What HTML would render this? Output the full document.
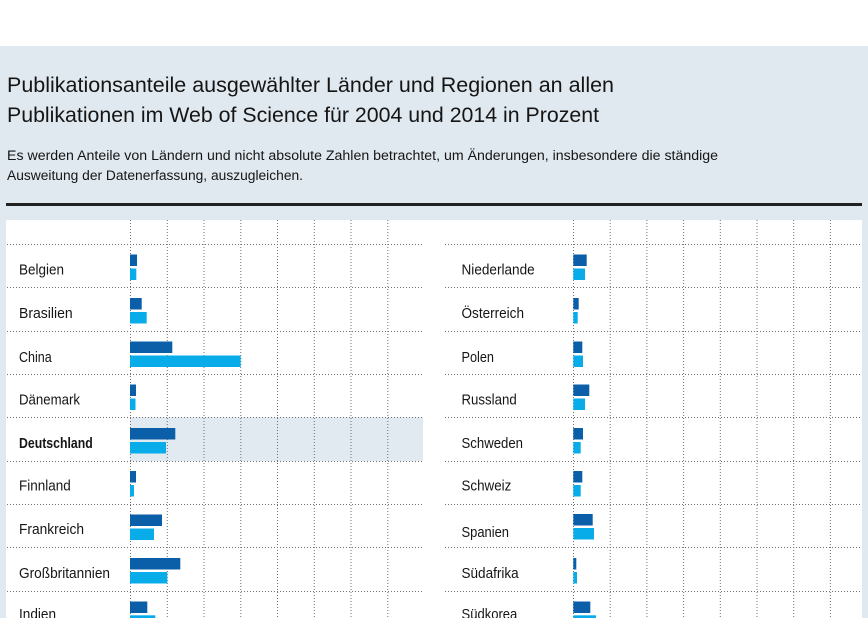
<!DOCTYPE html>
<html>
<head>
<meta charset="utf-8">
<style>
html,body{margin:0;padding:0;background:#fff;}
body{width:868px;height:618px;overflow:hidden;}
svg{display:block;}
text{font-family:"Liberation Sans",sans-serif;fill:#151515;}
</style>
</head>
<body>
<svg width="868" height="618" viewBox="0 0 868 618" xmlns="http://www.w3.org/2000/svg">
  <rect x="0" y="0" width="868" height="618" fill="#ffffff"/>
  <rect x="0" y="46" width="868" height="572" fill="#e1e9f0"/>

  <text x="7" y="92" font-size="21.5" textLength="607" lengthAdjust="spacingAndGlyphs">Publikationsanteile ausgewählter Länder und Regionen an allen</text>
  <text x="7" y="122" font-size="21.5" textLength="592" lengthAdjust="spacingAndGlyphs">Publikationen im Web of Science für 2004 und 2014 in Prozent</text>
  <text x="7" y="160" font-size="13.5" textLength="711" lengthAdjust="spacingAndGlyphs">Es werden Anteile von Ländern und nicht absolute Zahlen betrachtet, um Änderungen, insbesondere die ständige</text>
  <text x="7" y="180" font-size="13.5" textLength="296" lengthAdjust="spacingAndGlyphs">Ausweitung der Datenerfassung, auszugleichen.</text>

  <rect x="6" y="203" width="856" height="3" fill="#222"/>

  <rect x="6" y="220" width="856" height="398" fill="#ffffff"/>

  <!-- highlight Deutschland -->
  <rect x="130" y="417.3" width="293" height="43.7" fill="#e2eaf1"/>

  <!-- vertical grid lines -->
  <g stroke="#707070" stroke-width="1" stroke-dasharray="1 2" fill="none">
    <line x1="130.5" y1="220" x2="130.5" y2="618"/>
    <line x1="167.3" y1="220" x2="167.3" y2="618"/>
    <line x1="204" y1="220" x2="204" y2="618"/>
    <line x1="240.8" y1="220" x2="240.8" y2="618"/>
    <line x1="277.5" y1="220" x2="277.5" y2="618"/>
    <line x1="314.3" y1="220" x2="314.3" y2="618"/>
    <line x1="351" y1="220" x2="351" y2="618"/>
    <line x1="387.8" y1="220" x2="387.8" y2="618"/>

    <line x1="573.5" y1="220" x2="573.5" y2="618"/>
    <line x1="610.2" y1="220" x2="610.2" y2="618"/>
    <line x1="646.9" y1="220" x2="646.9" y2="618"/>
    <line x1="683.6" y1="220" x2="683.6" y2="618"/>
    <line x1="720.3" y1="220" x2="720.3" y2="618"/>
    <line x1="757" y1="220" x2="757" y2="618"/>
    <line x1="793.7" y1="220" x2="793.7" y2="618"/>
    <line x1="830.4" y1="220" x2="830.4" y2="618"/>
  </g>

  <!-- horizontal grid lines -->
  <g stroke="#707070" stroke-width="1" stroke-dasharray="1 2" fill="none">
    <line x1="7" y1="244.5" x2="423" y2="244.5"/>
    <line x1="7" y1="287.5" x2="423" y2="287.5"/>
    <line x1="7" y1="331.5" x2="423" y2="331.5"/>
    <line x1="7" y1="374.5" x2="423" y2="374.5"/>
    <line x1="7" y1="417.5" x2="423" y2="417.5"/>
    <line x1="7" y1="461.5" x2="423" y2="461.5"/>
    <line x1="7" y1="504.5" x2="423" y2="504.5"/>
    <line x1="7" y1="547.5" x2="423" y2="547.5"/>
    <line x1="7" y1="591.5" x2="423" y2="591.5"/>

    <line x1="445" y1="244.5" x2="862" y2="244.5"/>
    <line x1="445" y1="287.5" x2="862" y2="287.5"/>
    <line x1="445" y1="331.5" x2="862" y2="331.5"/>
    <line x1="445" y1="374.5" x2="862" y2="374.5"/>
    <line x1="445" y1="417.5" x2="862" y2="417.5"/>
    <line x1="445" y1="461.5" x2="862" y2="461.5"/>
    <line x1="445" y1="504.5" x2="862" y2="504.5"/>
    <line x1="445" y1="547.5" x2="862" y2="547.5"/>
    <line x1="445" y1="591.5" x2="862" y2="591.5"/>
  </g>

  <!-- left labels -->
  <g font-size="15">
    <text x="19" y="274.5" textLength="45" lengthAdjust="spacingAndGlyphs">Belgien</text>
    <text x="19" y="318" textLength="53.7" lengthAdjust="spacingAndGlyphs">Brasilien</text>
    <text x="19" y="362" textLength="32.7" lengthAdjust="spacingAndGlyphs">China</text>
    <text x="19" y="404.5" textLength="61" lengthAdjust="spacingAndGlyphs">Dänemark</text>
    <text x="19" y="448" textLength="73.7" lengthAdjust="spacingAndGlyphs" font-weight="bold">Deutschland</text>
    <text x="19" y="490.5" textLength="51.7" lengthAdjust="spacingAndGlyphs">Finnland</text>
    <text x="19" y="534" textLength="65" lengthAdjust="spacingAndGlyphs">Frankreich</text>
    <text x="19" y="578" textLength="91" lengthAdjust="spacingAndGlyphs">Großbritannien</text>
    <text x="19" y="619" textLength="37" lengthAdjust="spacingAndGlyphs">Indien</text>
  </g>

  <!-- right labels -->
  <g font-size="15">
    <text x="461.5" y="274.5" textLength="73.2" lengthAdjust="spacingAndGlyphs">Niederlande</text>
    <text x="461.5" y="318" textLength="62.5" lengthAdjust="spacingAndGlyphs">Österreich</text>
    <text x="461.5" y="362" textLength="32.5" lengthAdjust="spacingAndGlyphs">Polen</text>
    <text x="461.5" y="404.5" textLength="55.2" lengthAdjust="spacingAndGlyphs">Russland</text>
    <text x="461.5" y="448" textLength="61.5" lengthAdjust="spacingAndGlyphs">Schweden</text>
    <text x="461.5" y="490.5" textLength="49.8" lengthAdjust="spacingAndGlyphs">Schweiz</text>
    <text x="461.5" y="537" textLength="47.5" lengthAdjust="spacingAndGlyphs">Spanien</text>
    <text x="461.5" y="578" textLength="57.2" lengthAdjust="spacingAndGlyphs">Südafrika</text>
    <text x="461.5" y="619" textLength="55.8" lengthAdjust="spacingAndGlyphs">Südkorea</text>
  </g>

  <!-- left bars -->
  <g>
    <rect x="130" y="254.5" width="7" height="11.5" fill="#0b5fa8"/>
    <rect x="130" y="268.5" width="6.3" height="11.5" fill="#08ace9"/>

    <rect x="130" y="298" width="11.7" height="11.5" fill="#0b5fa8"/>
    <rect x="130" y="312" width="16.7" height="11.5" fill="#08ace9"/>

    <rect x="130" y="341.5" width="42.3" height="11.5" fill="#0b5fa8"/>
    <rect x="130" y="355.5" width="110.7" height="11.5" fill="#08ace9"/>

    <rect x="130" y="384.5" width="6" height="11.5" fill="#0b5fa8"/>
    <rect x="130" y="398.5" width="5.5" height="11.5" fill="#08ace9"/>

    <rect x="130" y="428" width="45.3" height="11.5" fill="#0b5fa8"/>
    <rect x="130" y="442" width="36" height="11.5" fill="#08ace9"/>

    <rect x="130" y="471" width="6" height="11.5" fill="#0b5fa8"/>
    <rect x="130" y="485" width="4" height="11.5" fill="#08ace9"/>

    <rect x="130" y="514.5" width="32" height="11.5" fill="#0b5fa8"/>
    <rect x="130" y="528.5" width="24" height="11.5" fill="#08ace9"/>

    <rect x="130" y="558" width="50.3" height="11.5" fill="#0b5fa8"/>
    <rect x="130" y="572" width="37.3" height="11.5" fill="#08ace9"/>

    <rect x="130" y="601.5" width="17.3" height="11.5" fill="#0b5fa8"/>
    <rect x="130" y="615.3" width="25.3" height="11.5" fill="#08ace9"/>
  </g>

  <!-- right bars -->
  <g>
    <rect x="573.3" y="254.5" width="13.4" height="11.5" fill="#0b5fa8"/>
    <rect x="573.3" y="268.5" width="11.7" height="11.5" fill="#08ace9"/>

    <rect x="573.3" y="298" width="5.4" height="11.5" fill="#0b5fa8"/>
    <rect x="573.3" y="312" width="4.4" height="11.5" fill="#08ace9"/>

    <rect x="573.3" y="341.5" width="9" height="11.5" fill="#0b5fa8"/>
    <rect x="573.3" y="355.5" width="9.7" height="11.5" fill="#08ace9"/>

    <rect x="573.3" y="384.5" width="16" height="11.5" fill="#0b5fa8"/>
    <rect x="573.3" y="398.5" width="11.7" height="11.5" fill="#08ace9"/>

    <rect x="573.3" y="428" width="9.7" height="11.5" fill="#0b5fa8"/>
    <rect x="573.3" y="442" width="7.4" height="11.5" fill="#08ace9"/>

    <rect x="573.3" y="471" width="9" height="11.5" fill="#0b5fa8"/>
    <rect x="573.3" y="485" width="7.4" height="11.5" fill="#08ace9"/>

    <rect x="573.3" y="514" width="19.4" height="11.5" fill="#0b5fa8"/>
    <rect x="573.3" y="528" width="20.7" height="11.5" fill="#08ace9"/>

    <rect x="573.3" y="558" width="3" height="11.5" fill="#0b5fa8"/>
    <rect x="573.3" y="572" width="3.7" height="11.5" fill="#08ace9"/>

    <rect x="573.3" y="601.5" width="17" height="11.5" fill="#0b5fa8"/>
    <rect x="573.3" y="615.3" width="22.7" height="11.5" fill="#08ace9"/>
  </g>
</svg>
</body>
</html>
